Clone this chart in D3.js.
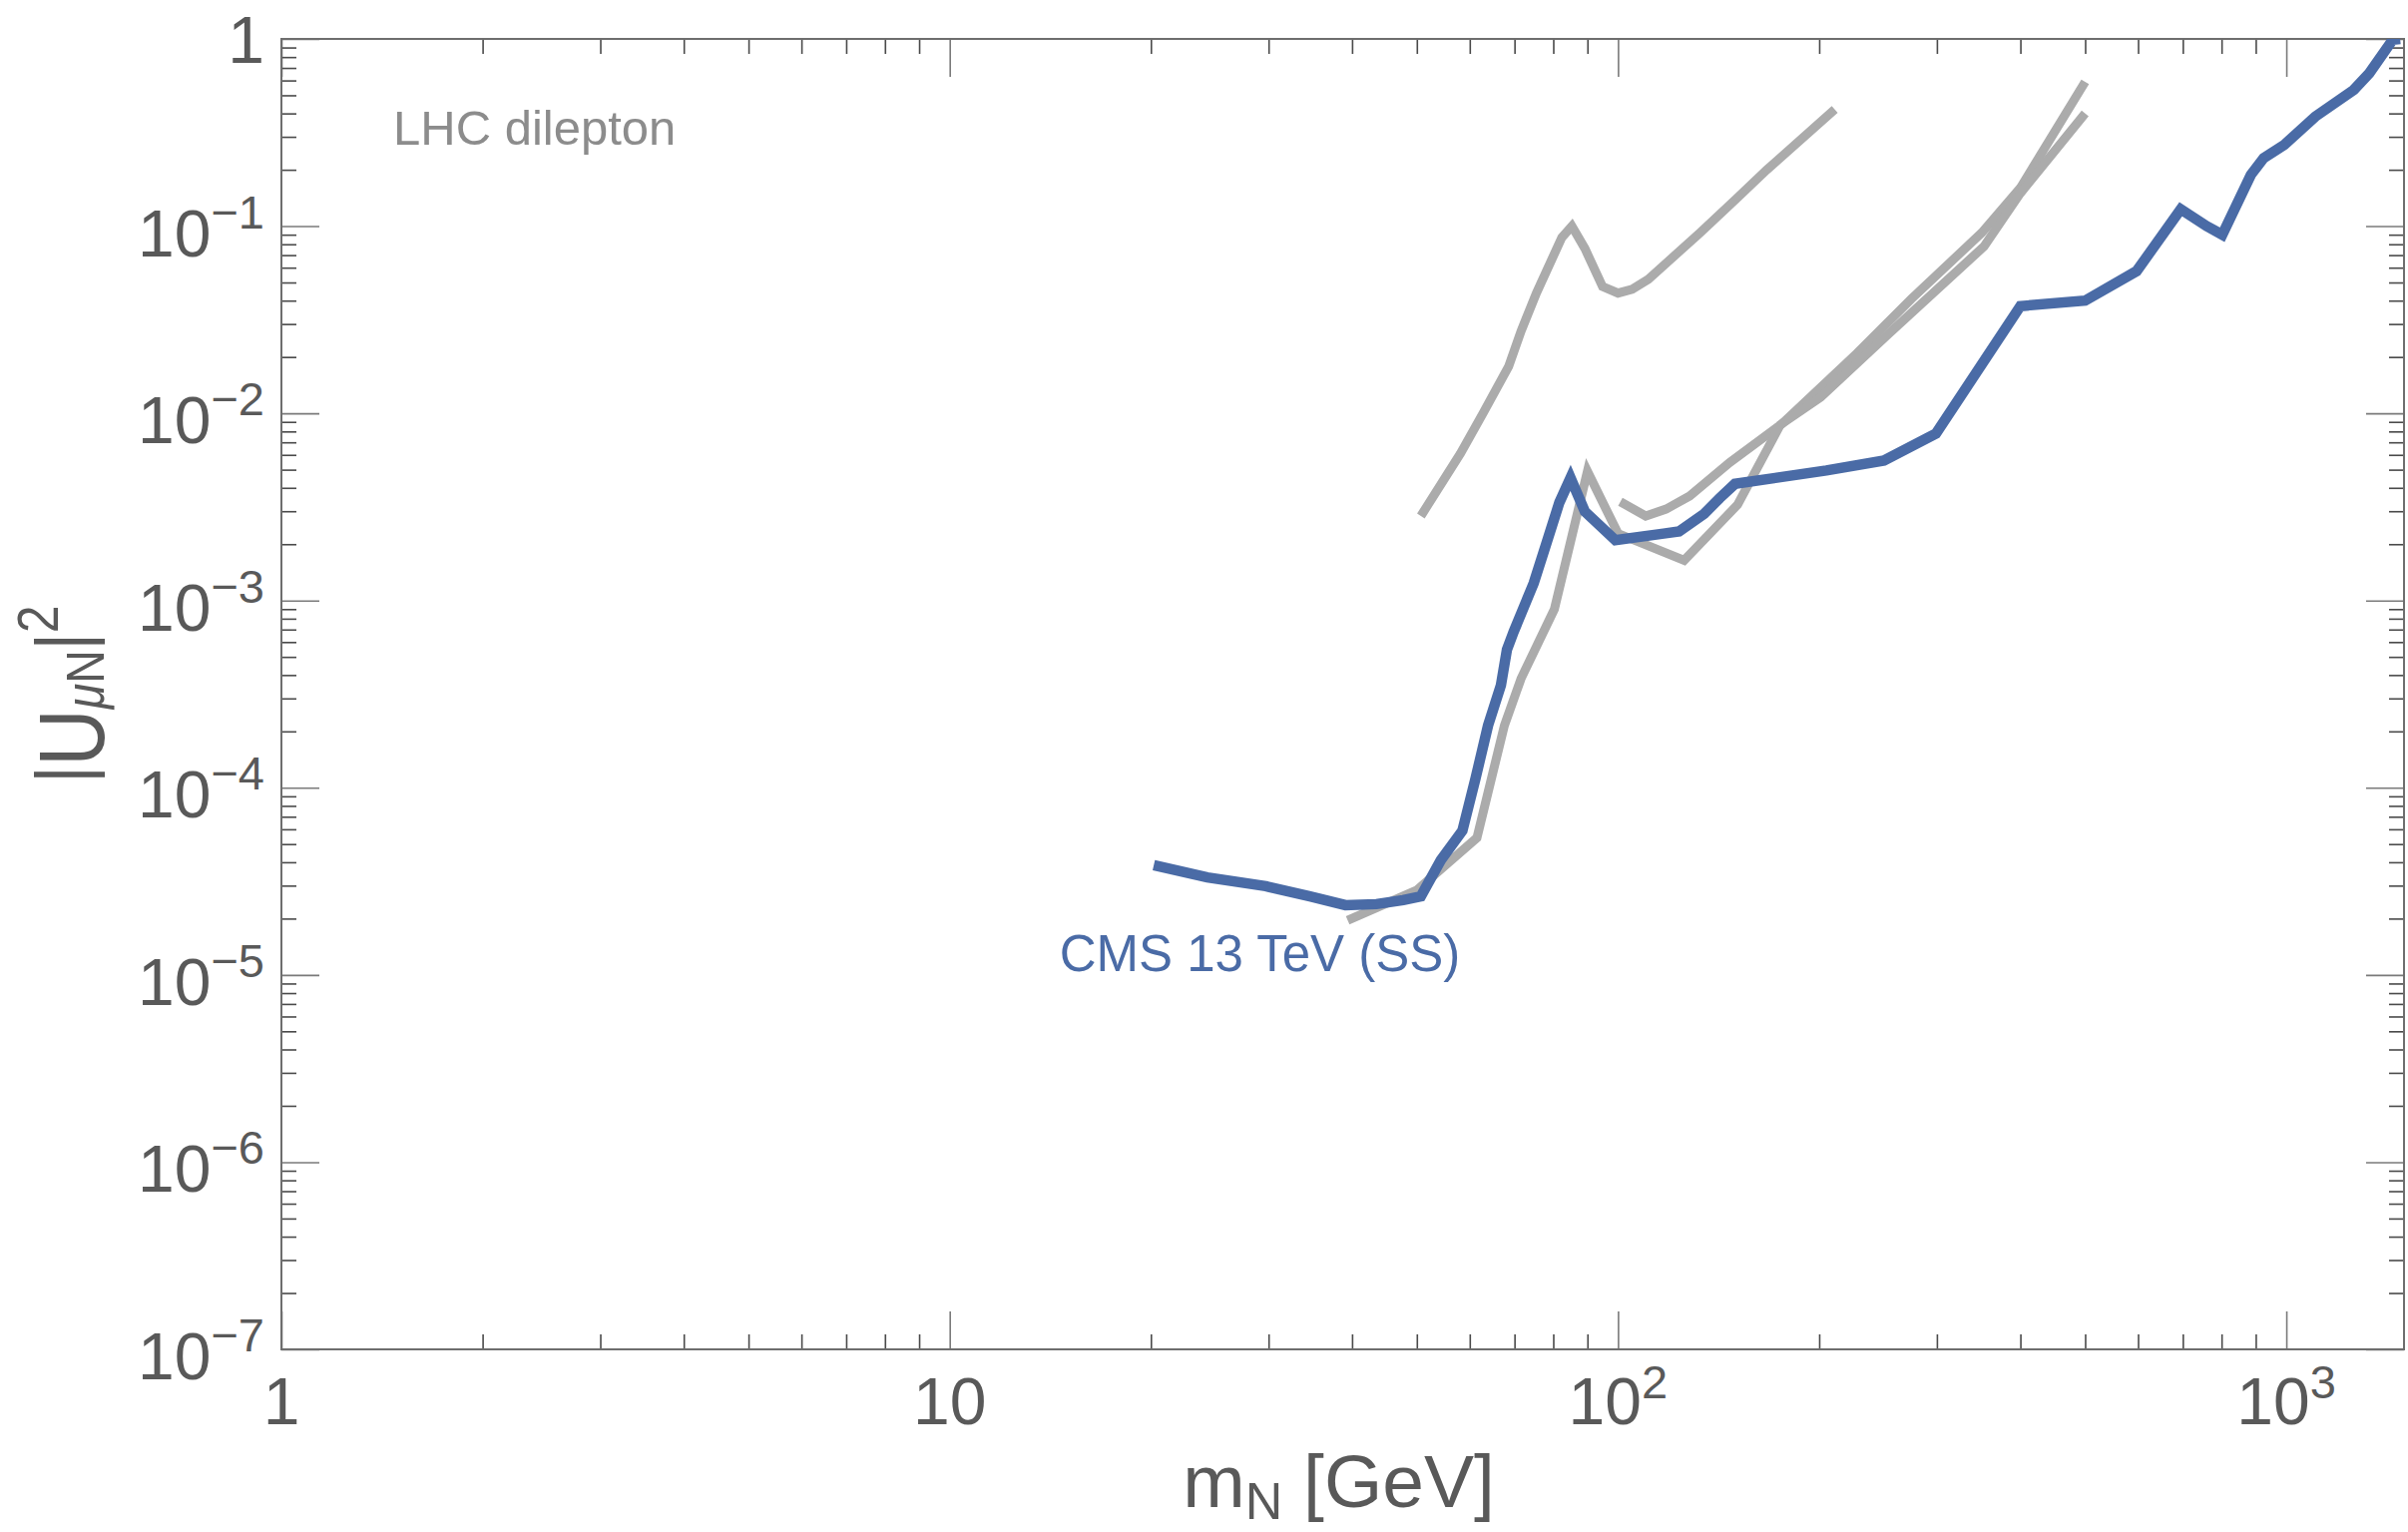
<!DOCTYPE html>
<html>
<head>
<meta charset="utf-8">
<script src="https://cdnjs.cloudflare.com/ajax/libs/d3/7.8.5/d3.min.js"></script>
<style>
  body { margin: 0; background: #fff; }
  svg { display: block; font-family: "Liberation Sans", Arial, Helvetica, sans-serif; }
</style>
</head>
<body>
<svg id="chart"></svg>
<script>
// CMS 13 TeV same-sign dilepton limit (blue)
let cmsMass = [20.2, 24.3, 29.7, 34.6, 39.1, 43.5, 47.7, 50.7, 54.3, 58.5, 61.2, 63.9, 66.8, 68.2, 69.8, 74.8, 78.2, 81.7, 84.9, 89.2, 99.1, 117, 123.4, 134.6, 142, 149.6, 205, 250, 299, 400, 500, 597, 695, 760, 802, 885, 925, 993, 1105, 1262, 1331, 1443, 1480]
let cmsU2 = [3.86e-5, 3.32e-5, 2.98e-5, 2.63e-5, 2.36e-5, 2.39e-5, 2.51e-5, 2.63e-5, 4.1e-5, 5.9e-5, 1.12e-4, 2.15e-4, 3.53e-4, 5.47e-4, 6.82e-4, 1.24e-3, 2.04e-3, 3.34e-3, 4.52e-3, 2.99e-3, 2.1e-3, 2.28e-3, 2.34e-3, 2.91e-3, 3.53e-3, 4.2e-3, 4.95e-3, 5.6e-3, 7.8e-3, 3.74e-2, 4.0e-2, 5.75e-2, 0.123, 0.1, 0.09, 0.188, 0.231, 0.272, 0.385, 0.535, 0.656, 0.99, 1.0]

// LHC dilepton limits (grey)
let lhcAMass = [50.7, 58.1, 62.8, 68.6, 71.6, 75.5, 82.4, 85.3, 89.2, 94.8, 100, 105, 111, 132.6, 150, 167, 211]
let lhcAU2 = [2.83e-3, 6.1e-3, 1.0e-2, 1.78e-2, 2.75e-2, 4.39e-2, 8.7e-2, 0.1, 0.076, 0.0476, 0.0439, 0.046, 0.052, 0.092, 0.139, 0.2, 0.42]

let lhcBMass = [100.8, 110, 118, 128, 147, 176, 228, 275, 350, 400, 500]
let lhcBU2 = [3.37e-3, 2.83e-3, 3.08e-3, 3.62e-3, 5.47e-3, 8.8e-3, 2.1e-2, 4.1e-2, 9.2e-2, 0.16, 0.59]

let lhcCMass = [39.4, 50, 61.5, 67.6, 71.6, 80.3, 90, 100, 125.6, 151, 175, 201, 252, 353, 400, 500]
let lhcCU2 = [1.96e-5, 2.84e-5, 5.4e-5, 2.15e-4, 3.83e-4, 8.98e-4, 4.9e-3, 2.28e-3, 1.64e-3, 3.25e-3, 8.7e-3, 1.22e-2, 2.59e-2, 7.8e-2, 0.15, 0.40]

// axes
let xDomain = [1, 1500]
let yDomain = [1e-7, 1]
let xMajor = [1, 10, 100, 1000]
let xMajorLabels = [["1", ""], ["10", ""], ["10", "2"], ["10", "3"]]
let yMajor = [1e-7, 1e-6, 1e-5, 1e-4, 1e-3, 1e-2, 1e-1, 1]
let yMajorLabels = [["10", "\u22127"], ["10", "\u22126"], ["10", "\u22125"], ["10", "\u22124"], ["10", "\u22123"], ["10", "\u22122"], ["10", "\u22121"], ["1", ""]]
let minorSteps = [2, 3, 4, 5, 6, 7, 8, 9]

// text annotations (data coordinates of the text start)
let lhcLabel = { text: "LHC dilepton", at: [1.47, 0.272] }
let cmsLabel = { text: "CMS 13 TeV (SS)", at: [14.6, 1.05e-5] }

let width = 2413
let height = 1535
let plotLeft = 282
let plotRight = 2409
let plotTop = 39
let plotBottom = 1352

let blue = "#4a6ba6"
let grey = "#ababab"
let ink = "#595959"

let svg = d3.select("#chart")
let xScale, yScale

let drawCanvas = () => {
  svg.attr("width", width)
     .attr("height", height)
     .style("background", "#fff")
}

let generateScales = () => {
  xScale = d3.scaleLog().domain(xDomain).range([plotLeft, plotRight])
  yScale = d3.scaleLog().domain(yDomain).range([plotBottom, plotTop])
}

let minorTicks = (majors, limit) => {
  let out = []
  majors.forEach(m => minorSteps.forEach(s => {
    let v = m * s
    if (v > limit[0] && v < limit[1]) out.push(v)
  }))
  return out
}

let drawTicks = () => {
  let xMinor = minorTicks(xMajor, xDomain)
  let yMinor = minorTicks(yMajor, yDomain)

  let sides = [
    { make: d3.axisBottom, scale: xScale, major: xMajor, minor: xMinor, at: "translate(0," + plotBottom + ")" },
    { make: d3.axisTop, scale: xScale, major: xMajor, minor: xMinor, at: "translate(0," + plotTop + ")" },
    { make: d3.axisLeft, scale: yScale, major: yMajor, minor: yMinor, at: "translate(" + plotLeft + ",0)" },
    { make: d3.axisRight, scale: yScale, major: yMajor, minor: yMinor, at: "translate(" + plotRight + ",0)" }
  ]

  sides.forEach(side => {
    let g = svg.append("g").attr("transform", side.at)
    g.append("g")
     .call(side.make(side.scale).tickValues(side.major).tickSize(-38).tickSizeOuter(0).tickFormat(""))
     .call(a => a.select(".domain").remove())
     .call(a => a.selectAll(".tick line").attr("stroke", "#7a7a7a").attr("stroke-width", 1.6))
    g.append("g")
     .call(side.make(side.scale).tickValues(side.minor).tickSize(-15).tickSizeOuter(0).tickFormat(""))
     .call(a => a.select(".domain").remove())
     .call(a => a.selectAll(".tick line").attr("stroke", "#4a4a4a").attr("stroke-width", 1.6))
  })

  svg.append("rect")
     .attr("x", plotLeft)
     .attr("y", plotTop)
     .attr("width", plotRight - plotLeft)
     .attr("height", plotBottom - plotTop)
     .attr("fill", "none")
     .attr("stroke", "#6e6e6e")
     .attr("stroke-width", 2)
}

let powerLabel = (sel, parts, baseSize, supSize, supShift) => {
  sel.append("tspan").text(parts[0]).style("font-size", baseSize + "px")
  if (parts[1] !== "") {
    sel.append("tspan").text(parts[1]).attr("dy", -supShift).style("font-size", supSize + "px")
  }
}

let drawTickLabels = () => {
  xMajor.forEach((v, i) => {
    let t = svg.append("text")
               .attr("x", xScale(v))
               .attr("y", plotBottom + 75)
               .attr("text-anchor", "middle")
               .attr("fill", ink)
    powerLabel(t, xMajorLabels[i], 66, 47, 26)
  })

  yMajor.forEach((v, i) => {
    let parts = yMajorLabels[i]
    let t = svg.append("text")
               .attr("x", plotLeft - 17)
               .attr("y", yScale(v) + (parts[1] === "" ? 24 : 30))
               .attr("text-anchor", "end")
               .attr("fill", ink)
    powerLabel(t, parts, 66, 47, 28)
  })
}

let drawAxisTitles = () => {
  // x title: m_N [GeV]
  let xt = svg.append("text")
              .attr("x", (plotLeft + plotRight) / 2 - 4)
              .attr("y", 1510)
              .attr("text-anchor", "middle")
              .attr("fill", ink)
              .style("font-size", "75px")
  xt.append("tspan").text("m")
  xt.append("tspan").text("N").attr("dy", 12).style("font-size", "52px")
  xt.append("tspan").text(" [GeV]").attr("dy", -12)

  // y title: |U_muN|^2
  let yt = svg.append("text")
              .attr("transform", "translate(104," + ((plotTop + plotBottom) / 2) + ") rotate(-90) scale(0.86,1)")
              .attr("text-anchor", "middle")
              .attr("fill", ink)
              .style("font-size", "92px")
  yt.append("tspan").text("|").attr("dy", -15).style("font-size", "76px")
  yt.append("tspan").text("U").attr("dy", 15)
  yt.append("tspan").text("\u03bc").style("font-size", "54px").style("font-style", "italic")
  yt.append("tspan").text("N").style("font-size", "54px")
  yt.append("tspan").text("|").attr("dy", -15).style("font-size", "76px")
  yt.append("tspan").text("2").attr("dy", -31).style("font-size", "58px")
}

let drawCurves = () => {
  svg.append("clipPath")
     .attr("id", "plot-area")
     .append("rect")
     .attr("x", plotLeft)
     .attr("y", plotTop)
     .attr("width", plotRight - plotLeft)
     .attr("height", plotBottom - plotTop)

  let line = d3.line()
               .x(d => xScale(d[0]))
               .y(d => yScale(d[1]))

  let curves = [
    { mass: lhcAMass, u2: lhcAU2, color: grey, w: 9 },
    { mass: lhcBMass, u2: lhcBU2, color: grey, w: 9 },
    { mass: lhcCMass, u2: lhcCU2, color: grey, w: 9 },
    { mass: cmsMass, u2: cmsU2, color: blue, w: 10.5 }
  ]

  svg.append("g")
     .attr("clip-path", "url(#plot-area)")
     .selectAll("path")
     .data(curves)
     .enter()
     .append("path")
     .attr("d", c => line(d3.zip(c.mass, c.u2)))
     .attr("fill", "none")
     .attr("stroke", c => c.color)
     .attr("stroke-width", c => c.w)
}

let drawAnnotations = () => {
  svg.append("text")
     .attr("x", xScale(lhcLabel.at[0]))
     .attr("y", yScale(lhcLabel.at[1]))
     .attr("fill", "#8c8c8c")
     .style("font-size", "49px")
     .text(lhcLabel.text)

  svg.append("text")
     .attr("x", xScale(cmsLabel.at[0]))
     .attr("y", yScale(cmsLabel.at[1]))
     .attr("fill", blue)
     .style("font-size", "51px")
     .text(cmsLabel.text)
}

drawCanvas()
generateScales()
drawTicks()
drawCurves()
drawTickLabels()
drawAxisTitles()
drawAnnotations()
</script>
</body>
</html>
